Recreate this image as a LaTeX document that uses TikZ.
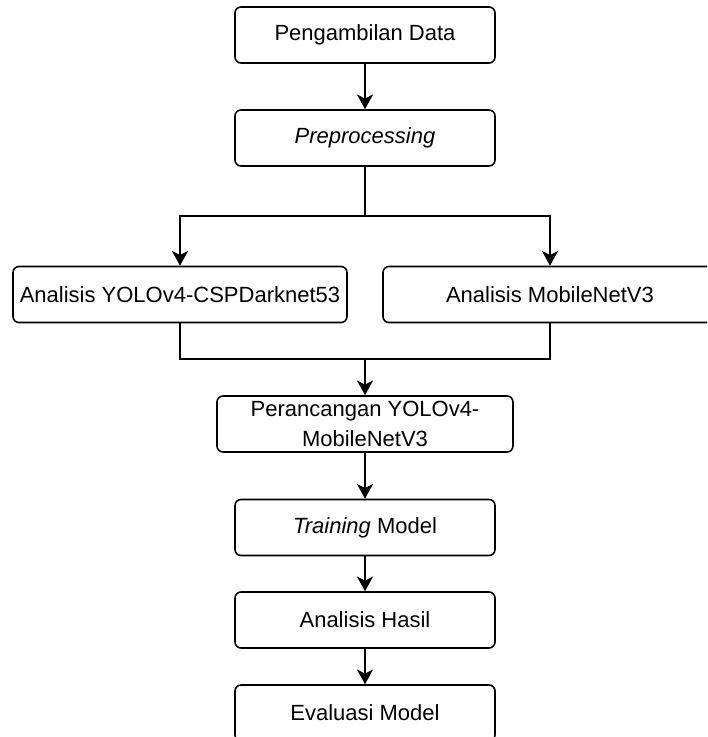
\documentclass[tikz,border=0pt]{standalone}
\usepackage{fontspec}
\setmainfont{Liberation Sans}
\usetikzlibrary{arrows.meta}

\begin{document}
\begin{tikzpicture}[
            x=0.75pt, y=-0.75pt,
            line width=1.2pt,
            proc/.style={draw, rounded corners=4.5pt, minimum height=42pt, minimum width=195pt,
                         inner sep=0pt, align=center, font=\fontsize{16.5}{22}\selectfont},
            flow/.style={-{Stealth[length=11pt,width=12pt,inset=3pt]}}
        ]
        \useasboundingbox (0,0) rectangle (707,737);
        \clip (0,0) rectangle (707,737);

        % --- Nodes ---
        \node[proc] (data) at (365,35) {Pengambilan Data};
        \node[proc] (pre) at (365,138) {\textit{Preprocessing}};
        \node[proc,minimum width=250.5pt] (yolo) at (180,294.5) {Analisis YOLOv4-CSPDarknet53};
        \node[proc,minimum width=250.5pt] (mobile) at (550,294.5) {Analisis MobileNetV3};
        \node[proc,minimum width=222pt] (design) at (365,424) {Perancangan YOLOv4-\\MobileNetV3};
        \node[proc] (train) at (365,527.5) {\textit{Training} Model};
        \node[proc] (hasil) at (365,620) {Analisis Hasil};
        \node[proc] (eval) at (365,713) {Evaluasi Model};

        \coordinate (split) at (365,216);
        \coordinate (merge) at (365,359);

        % --- Connectors ---
        \draw[flow] (data) -- (pre);
        \draw[flow] (pre.south) -- (split) -| (yolo.north);
        \draw[flow] (split) -| (mobile.north);
        \draw (yolo.south) |- (merge) -| (mobile.south);
        \draw[flow] (merge) -- (design);
        \draw[flow] (design) -- (train);
        \draw[flow] (train) -- (hasil);
        \draw[flow] (hasil) -- (eval);
\end{tikzpicture}
\end{document}
